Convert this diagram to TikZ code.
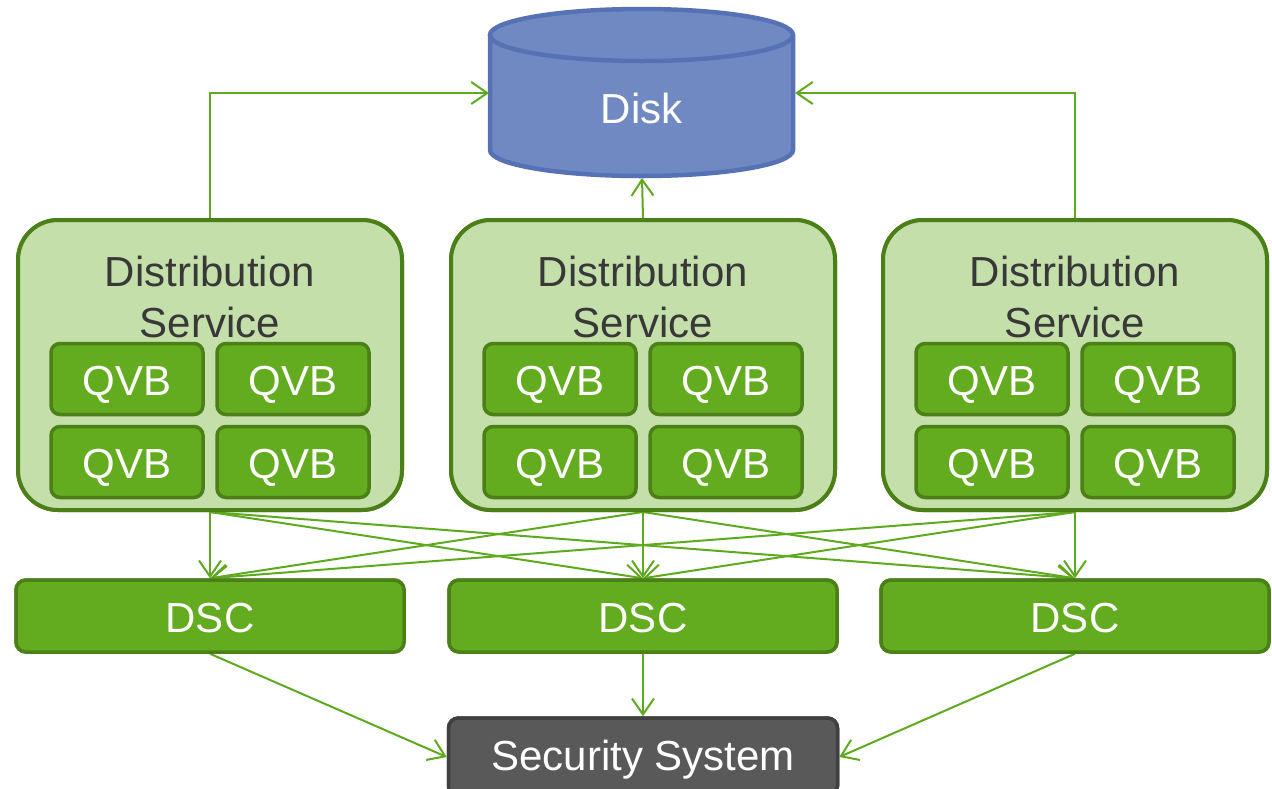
\documentclass[tikz,border=0pt]{standalone}
\usepackage{fontspec}
\setmainfont{Liberation Sans}
\usetikzlibrary{arrows.meta}
\definecolor{dsfill}{HTML}{C4DFAA}
\definecolor{gdark}{HTML}{4B7F17}
\definecolor{gmid}{HTML}{63AB1F}
\definecolor{garrow}{HTML}{5DAA1F}
\definecolor{diskfill}{HTML}{7189C3}
\definecolor{diskline}{HTML}{5671B4}
\definecolor{secfill}{HTML}{595959}
\definecolor{secline}{HTML}{404040}
\definecolor{dstext}{HTML}{383838}
\tikzset{
  big/.style={font=\fontsize{42}{48}\selectfont},
  dsbox/.style={draw=gdark, fill=dsfill, line width=4pt, rounded corners=40pt,
    minimum width=384, minimum height=290, inner sep=0pt},
  qvb/.style={draw=gdark, fill=gmid, line width=3.5pt, rounded corners=9pt,
    minimum width=152, minimum height=71, inner sep=0pt, text=white, big,
    text height=32pt, text depth=0pt},
  dsc/.style={draw=gdark, fill=gmid, line width=3.5pt, rounded corners=10pt,
    minimum width=388, minimum height=72, inner sep=0pt, text=white, big,
    text height=32pt, text depth=0pt},
  secbox/.style={draw=secline, fill=secfill, line width=3.5pt, rounded corners=10pt,
    minimum width=389, minimum height=78, inner sep=0pt, text=white, big,
    text height=26pt, text depth=0pt},
  lbl/.style={anchor=base, inner sep=0pt, big},
  conn/.style={draw=garrow, line width=2pt,
    -{Straight Barb[length=16pt,width=22pt]}},
}
\begin{document}
\begin{tikzpicture}[x=1pt,y=-1pt]
\useasboundingbox (0,0) rectangle (1272,788);

% disk cylinder (y axis points down, so arcs run the other way)
\fill[diskfill] (490,35) -- (490,150) arc[start angle=180,end angle=0,x radius=151.5,y radius=26]
  -- (793,35) arc[start angle=0,end angle=-180,x radius=151.5,y radius=26] -- cycle;
\draw[diskline, line width=4.5pt] (490,35) -- (490,150) arc[start angle=180,end angle=0,x radius=151.5,y radius=26] -- (793,35);
\draw[diskline, line width=4.5pt] (641.5,35) ellipse[x radius=151.5,y radius=26];
\node[lbl, text=white] (disk) at (641.5,123) {Disk};
\coordinate (diskL) at (489,93);
\coordinate (diskR) at (795,93);
\coordinate (diskB) at (642,178);

% distribution service boxes
\foreach \i/\x in {1/210,2/643,3/1075}{
  \node[dsbox] (ds\i) at (\x,365) {};
}
% DSC boxes and security system
\foreach \i/\x in {1/210,2/643,3/1075}{
  \node[dsc] (dsc\i) at (\x,616) {};
}
\node[secbox] (sec) at (643,757) {};

% connectors
\draw[conn] (ds1.north) |- (diskL);
\draw[conn] (ds2.north) -- (diskB);
\draw[conn] (ds3.north) |- (diskR);
\foreach \a in {1,2,3}{
  \foreach \b in {1,2,3}{
    \draw[conn] (ds\a.south) -- (dsc\b.north);
  }
}
\draw[conn] (dsc1.south) -- (sec.west);
\draw[conn] (dsc2.south) -- (sec.north);
\draw[conn] (dsc3.south) -- (sec.east);

% boxes drawn again over the connector ends
\foreach \i/\x in {1/210,2/643,3/1075}{
  \node[dsbox] at (\x,365) {};
  \node[lbl, text=dstext] (dst\i) at (\x,286) {Distribution};
  \node[lbl, text=dstext] (dss\i) at (\x,337) {Service};
  \node[qvb] (q\i a) at (\x-83,379) {QVB};
  \node[qvb] (q\i b) at (\x+83,379) {QVB};
  \node[qvb] (q\i c) at (\x-83,462) {QVB};
  \node[qvb] (q\i d) at (\x+83,462) {QVB};
  \node[dsc] at (\x,616) {DSC};
}
\node[secbox] at (643,757) {Security System};
\end{tikzpicture}
\end{document}
